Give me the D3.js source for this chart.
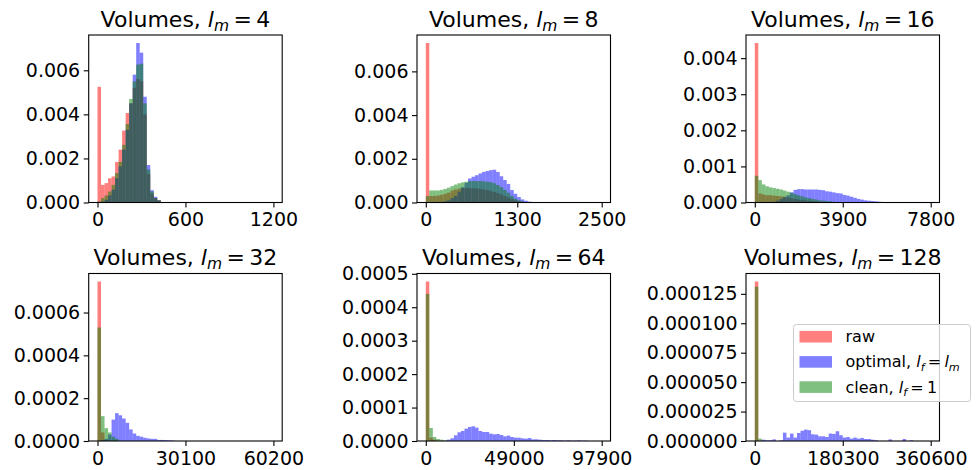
<!DOCTYPE html>
<html>
<head>
<meta charset="utf-8">
<script src="https://cdn.jsdelivr.net/npm/d3@7"></script>
<style>
  body { margin: 0; background: #fff; }
  text { font-family: "DejaVu Sans", sans-serif; fill: #000; }
</style>
</head>
<body>
<svg id="chart" width="977" height="470"></svg>
<script>
// l_m value of each panel (title)
var lmValues = [4, 8, 16, 32, 64, 128];

// upper end of the histogram range, also the last x tick
var xMax = [1200, 2500, 7800, 60200, 97900, 360600];
var xTickLabels = [
    [0, 600, 1200],
    [0, 1300, 2500],
    [0, 3900, 7800],
    [0, 30100, 60200],
    [0, 49000, 97900],
    [0, 180300, 360600]
];
var yTickLabels = [
    [0, 0.002, 0.004, 0.006],
    [0, 0.002, 0.004, 0.006],
    [0, 0.001, 0.002, 0.003, 0.004],
    [0, 0.0002, 0.0004, 0.0006],
    [0, 0.0001, 0.0002, 0.0003, 0.0004, 0.0005],
    [0, 0.000025, 0.00005, 0.000075, 0.0001, 0.000125]
];
var yDecimals = [3, 3, 3, 4, 4, 6];
var nBins = 50;

// density per bin (bins start at 0)
var raw4 = [0.00525, 0.0008, 0.00088, 0.0011, 0.00118, 0.00184, 0.0024, 0.00326, 0.00406, 0.0045, 0.0052, 0.0056, 0.0055, 0.0040, 0.0013, 0.0004, 0.0002, 0.0001];
var opt4 = [0, 0.00004, 0.00012, 0.00032, 0.00058, 0.0011, 0.00164, 0.0024, 0.0033, 0.0045, 0.0058, 0.00724, 0.0068, 0.0048, 0.0017, 0.00056, 0.00026, 0.0001];
var clean4 = [0.00005, 0.0002, 0.00032, 0.0005, 0.0008, 0.00134, 0.00184, 0.00262, 0.00356, 0.0047, 0.0055, 0.00626, 0.0063, 0.0045, 0.0015, 0.0005, 0.0002, 0.0001];

var raw8 = [0.0073, 0.0003, 0.0003, 0.00032, 0.00035, 0.0004, 0.00045, 0.00055, 0.0006, 0.00064, 0.00066, 0.00066, 0.00066, 0.00065, 0.00064, 0.00062, 0.0006, 0.00057, 0.00053, 0.00048, 0.00043, 0.00037, 0.0003, 0.00023, 0.00016, 0.0001, 0.00006, 0.00003, 0.00001];
var opt8 = [0, 0, 0, 0, 0, 0.00005, 0.0001, 0.0002, 0.0003, 0.0005, 0.0007, 0.0009, 0.0011, 0.00118, 0.00125, 0.00133, 0.0014, 0.00144, 0.00148, 0.0015, 0.0014, 0.0012, 0.00103, 0.00085, 0.00057, 0.0004, 0.00025, 0.00014, 0.00008, 0.00004, 0.00002];
var clean8 = [0.0003, 0.00055, 0.00055, 0.00055, 0.00058, 0.00062, 0.00068, 0.00075, 0.00082, 0.00088, 0.00092, 0.00095, 0.00098, 0.00098, 0.00098, 0.00098, 0.00097, 0.00095, 0.00093, 0.00088, 0.0008, 0.0007, 0.00058, 0.00045, 0.0003, 0.00018, 0.0001, 0.00005, 0.00002];

var raw16 = [0.00442, 0.00025, 0.00022, 0.0002, 0.0002, 0.00019, 0.00018, 0.00017, 0.00016, 0.00014, 0.00012, 0.0001, 0.00008, 0.00007, 0.00006, 0.00005, 0.00004, 0.00003, 0.00002, 0.00002, 0.00001];
var opt16 = [0, 0, 0, 0, 0, 0.00002, 0.00005, 0.0001, 0.00015, 0.0002, 0.00028, 0.00035, 0.00037, 0.00037, 0.00036, 0.00036, 0.00036, 0.00036, 0.00035, 0.00034, 0.00031, 0.0003, 0.00028, 0.00026, 0.00025, 0.00021, 0.00019, 0.00016, 0.00013, 0.0001, 0.00008, 0.00006, 0.00005, 0.00004, 0.00003, 0.00002, 0.00001, 0.00001];
var clean16 = [0.00074, 0.00062, 0.0005, 0.00045, 0.00042, 0.0004, 0.00038, 0.00036, 0.00033, 0.0003, 0.00027, 0.00023, 0.0002, 0.00017, 0.00014, 0.00012, 0.0001, 0.00008, 0.00006, 0.00005, 0.00004, 0.00003, 0.00002, 0.00001];

var raw32 = [0.000745, 0.00004, 0.000005];
var opt32 = [0, 0.000005, 0.00001, 0.00003, 0.0001, 0.00013, 0.00012, 0.000105, 0.000085, 0.000054, 0.000035, 0.000024, 0.00002, 0.000015, 0.000012, 0.00001, 0.00001, 0.000005, 0.000005, 0.000004, 0.000003, 0.000002];
var clean32 = [0.00053, 0.000116, 0.00006, 0.00004, 0.00002, 0.00001];

var raw64 = [0.000477, 0.00001, 0.000004];
var opt64 = [0, 0, 0, 0, 0, 0, 0.000004, 0.000008, 0.000017, 0.000026, 0.00003, 0.000037, 0.000042, 0.000044, 0.00004, 0.00003, 0.000027, 0.000027, 0.000022, 0.00002, 0.000021, 0.000018, 0.000014, 0.000016, 0.000012, 0.00001, 0.00001, 0.000008, 0.000007, 0.000009, 0.000005, 0.000005, 0.000004, 0.000003, 0.000003, 0.000002, 0.000003, 0.000002, 0.000002, 0.000001, 0.000002, 0.000001, 0.000001, 0.000002, 0.000001, 0.000001];
var clean64 = [0.00044, 0.000039, 0.000012, 0.000006, 0.000004, 0.000002];

var raw128 = [0.0001355];
var opt128 = [0, 0, 0.0000011, 0.0000006, 0.0000006, 0.0000014, 0, 0.0000006, 0.0000071, 0.0000029, 0.0000063, 0.0000029, 0.0000068, 0.0000087, 0.0000097, 0.0000092, 0.0000057, 0.0000054, 0.000004, 0.000004, 0.0000034, 0.0000063, 0.000006, 0.0000083, 0.0000049, 0.0000029, 0.0000034, 0.000002, 0.0000029, 0.000002, 0.0000026, 0.0000017, 0.0000017, 0.0000011, 0.0000006, 0, 0, 0, 0.0000014, 0, 0, 0, 0.0000017, 0, 0.0000006];
var clean128 = [0.000131, 0.000002];

var rawSeries = [raw4, raw8, raw16, raw32, raw64, raw128];
var optSeries = [opt4, opt8, opt16, opt32, opt64, opt128];
var cleanSeries = [clean4, clean8, clean16, clean32, clean64, clean128];

var colors = ['#ff0000', '#0000ff', '#008000'];

// panel layout
var colLeft = [88.7, 417, 746];
var rowTop = [35, 273.5];
var panelW = 193.5;
var panelH = 167.5;

var svg = d3.select('#chart');
svg.append('rect').attr('width', 977).attr('height', 470).attr('fill', '#fff');

function drawPanel(i) {
    var left = colLeft[i % 3];
    var top = rowTop[Math.floor(i / 3)];
    var R = xMax[i];
    var binW = R / nBins;
    var all = rawSeries[i].concat(optSeries[i], cleanSeries[i]);

    var x = d3.scaleLinear()
        .domain([-0.05 * R, 1.05 * R])
        .range([left, left + panelW]);
    var y = d3.scaleLinear()
        .domain([0, d3.max(all) * 1.05])
        .range([top + panelH, top]);

    var g = svg.append('g');

    // histograms: raw, optimal, clean, each half transparent
    [rawSeries[i], optSeries[i], cleanSeries[i]].forEach(function (vals, s) {
        g.append('g')
            .selectAll('rect')
            .data(vals.map(function (v, k) { return { k: k, v: v }; }).filter(function (d) { return d.v > 0; }))
            .enter()
            .append('rect')
                .attr('x', function (d) { return x(d.k * binW); })
                .attr('width', function (d) { return x((d.k + 1) * binW) - x(d.k * binW); })
                .attr('y', function (d) { return y(d.v); })
                .attr('height', function (d) { return y(0) - y(d.v); })
                .attr('fill', colors[s])
                .attr('fill-opacity', 0.5);
    });

    var fmt = d3.format('.' + yDecimals[i] + 'f');

    var xAxis = g.append('g')
        .attr('transform', 'translate(0,' + (top + panelH) + ')')
        .call(d3.axisBottom(x).tickValues(xTickLabels[i]).tickFormat(d3.format('d'))
            .tickSize(5).tickSizeOuter(0).tickPadding(5.5));
    var yAxis = g.append('g')
        .attr('transform', 'translate(' + left + ',0)')
        .call(d3.axisLeft(y).tickValues(yTickLabels[i]).tickFormat(fmt)
            .tickSize(5).tickSizeOuter(0).tickPadding(3.5));

    [xAxis, yAxis].forEach(function (ax) {
        ax.select('.domain').remove();
        ax.selectAll('line').attr('stroke', '#000').attr('stroke-width', 1.1);
        ax.selectAll('text')
            .attr('font-family', 'DejaVu Sans')
            .attr('font-size', 19)
            .attr('fill', '#000');
    });

    // frame
    g.append('rect')
        .attr('x', left)
        .attr('y', top)
        .attr('width', panelW)
        .attr('height', panelH)
        .attr('fill', 'none')
        .attr('stroke', '#000')
        .attr('stroke-width', 1.1);

    // title: Volumes, l_m = N
    var t = g.append('text')
        .attr('x', left + panelW / 2)
        .attr('y', top - 8.5)
        .attr('text-anchor', 'middle')
        .attr('font-size', 22);
    t.append('tspan').text('Volumes, ');
    t.append('tspan').attr('font-style', 'italic').text('l');
    t.append('tspan').attr('font-style', 'italic').attr('font-size', 15.5).attr('dy', 4).text('m');
    t.append('tspan').attr('dy', -4).text('\u2009=\u2009' + lmValues[i]);
}

for (var i = 0; i < 6; i++) {
    drawPanel(i);
}

// legend
var legendLabels = [
    [['raw', false]],
    [['optimal, ', false], ['l', true], ['f', 'sub'], ['\u2009=\u2009', false], ['l', true], ['m', 'sub']],
    [['clean, ', false], ['l', true], ['f', 'sub'], ['\u2009=\u20091', false]]
];

var legend = svg.append('g');
legend.append('rect')
    .attr('x', 793.5)
    .attr('y', 324.5)
    .attr('width', 177)
    .attr('height', 77)
    .attr('rx', 3)
    .attr('fill', '#fff')
    .attr('fill-opacity', 0.8)
    .attr('stroke', '#cccccc')
    .attr('stroke-width', 1);

legendLabels.forEach(function (parts, k) {
    var cy = 336.7 + k * 25.2;
    legend.append('rect')
        .attr('x', 799.5)
        .attr('y', cy - 5.8)
        .attr('width', 32.5)
        .attr('height', 11.6)
        .attr('fill', colors[k])
        .attr('fill-opacity', 0.5);
    var txt = legend.append('text')
        .attr('x', 845.5)
        .attr('y', cy + 5.5)
        .attr('font-size', 16);
    var shifted = false;
    parts.forEach(function (p) {
        var sp = txt.append('tspan').text(p[0]);
        if (p[1] === 'sub') {
            sp.attr('font-style', 'italic').attr('font-size', 11.2).attr('dy', 3.5);
            shifted = true;
        } else {
            if (shifted) { sp.attr('dy', -3.5); shifted = false; }
            if (p[1] === true) { sp.attr('font-style', 'italic'); }
        }
    });
});
</script>
</body>
</html>
